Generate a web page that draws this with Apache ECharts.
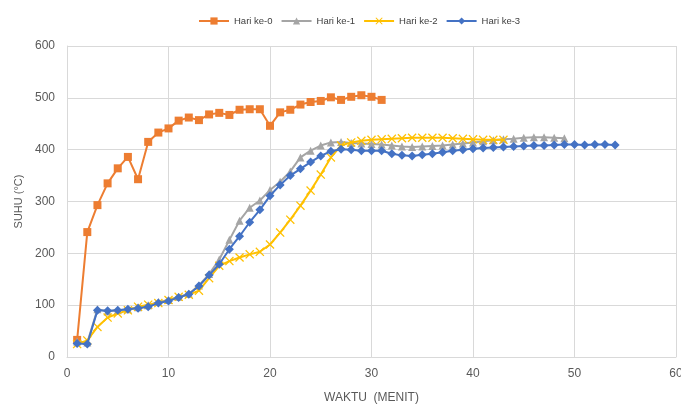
<!DOCTYPE html>
<html>
<head>
<meta charset="utf-8">
<script src="https://cdn.jsdelivr.net/npm/echarts@6/dist/echarts.min.js"></script>
<style>html,body{margin:0;padding:0;background:#fff;}#c{width:681px;height:405px;}</style>
</head>
<body>
<div id="c"></div>
<script>
const seriesNames = ['Hari ke-0', 'Hari ke-1', 'Hari ke-2', 'Hari ke-3'];
const minutes = [1,2,3,4,5,6,7,8,9,10,11,12,13,14,15,16,17,18,19,20,21,22,23,24,25,26,27,28,29,30,31,32,33,34,35,36,37,38,39,40,41,42,43,44,45,46,47,48,49,50,51,52,53,54];
const hari0 = [33,241,293,335,364,386,343,415,433,441,456,462,457,468,471,467,477,478,478,446,472,477,487,492,494,501,496,502,505,502,496];
const hari1 = [30,28,92,88,90,92,96,100,106,110,116,122,138,160,188,226,263,288,302,322,338,358,385,398,408,414,415,413,412,411,410,408,406,405,406,407,408,410,412,414,416,418,420,421,423,424,424,423,422];
const hari2 = [25,32,58,76,84,90,97,101,104,110,116,120,128,152,176,185,192,198,203,217,240,265,292,321,352,385,408,414,417,419,420,421,422,423,423,423,423,422,421,420,419,419,419];
const hari3 = [26,25,90,89,90,92,94,97,104,108,115,121,137,158,179,208,233,260,284,311,332,350,363,376,388,397,401,400,398,398,398,392,389,388,390,392,395,398,400,402,403,404,405,406,407,408,408,409,410,410,409,410,410,409];
const xTicks = [0, 10, 20, 30, 40, 50, 60];
const yTicks = [0, 100, 200, 300, 400, 500, 600];

const colors = ['#ED7D31', '#A5A5A5', '#FFC000', '#4472C4'];
const symbols = [
  'rect',
  'triangle',
  'path://M1,0 L5,4 L9,0 L10,1 L6,5 L10,9 L9,10 L5,6 L1,10 L0,9 L4,5 L0,1 Z',
  'diamond'
];
const symbolSizes = [8, 8, 9, 9];
const allData = [hari0, hari1, hari2, hari3];

const chart = echarts.init(document.getElementById('c'), null, {renderer: 'canvas'});
chart.setOption({
  animation: false,
  color: colors,
  textStyle: {fontFamily: 'Liberation Sans, Arial, sans-serif'},
  legend: {
    top: 11,
    left: 193,
    itemWidth: 30,
    itemHeight: 9,
    itemGap: 8,
    textStyle: {fontSize: 9.5, color: '#404040'},
    data: seriesNames
  },
  grid: {left: 67, right: 5, top: 46, bottom: 48, containLabel: false, outerBoundsMode: 'none'},
  xAxis: {
    type: 'value',
    min: xTicks[0],
    max: xTicks[xTicks.length - 1],
    interval: 10,
    name: 'WAKTU  (MENIT)',
    nameLocation: 'middle',
    nameGap: 35,
    nameTextStyle: {fontSize: 12, color: '#595959'},
    axisLine: {show: true, lineStyle: {color: '#d9d9d9'}},
    axisTick: {show: false},
    axisLabel: {fontSize: 12, color: '#595959', margin: 11},
    splitLine: {show: true, lineStyle: {color: '#d9d9d9'}}
  },
  yAxis: {
    type: 'value',
    min: yTicks[0],
    max: yTicks[yTicks.length - 1],
    interval: 100,
    name: 'SUHU (°C)',
    nameLocation: 'middle',
    nameGap: 39,
    nameTextStyle: {fontSize: 11, color: '#595959'},
    axisLine: {show: true, lineStyle: {color: '#d9d9d9'}},
    axisTick: {show: false},
    axisLabel: {fontSize: 12, color: '#595959', margin: 12},
    splitLine: {show: true, lineStyle: {color: '#d9d9d9'}}
  },
  series: allData.map((vals, s) => ({
    name: seriesNames[s],
    type: 'line',
    data: vals.map((v, i) => [minutes[i], v]),
    symbol: symbols[s],
    symbolSize: symbolSizes[s],
    showAllSymbol: true,
    lineStyle: {width: 2, color: colors[s]},
    itemStyle: {color: colors[s]},
    z: s === 3 ? 5 : 2 + s
  }))
});
</script>
</body>
</html>
